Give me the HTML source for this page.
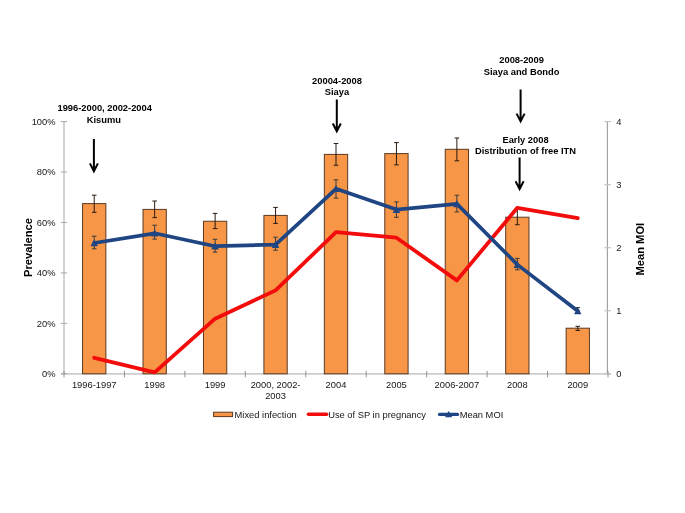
<!DOCTYPE html><html><head><meta charset="utf-8"><style>html,body{margin:0;padding:0;background:#fff;}svg{display:block;font-family:"Liberation Sans",sans-serif;filter:blur(0.35px);}</style></head><body>
<svg width="685" height="513" viewBox="0 0 685 513">
<rect x="0" y="0" width="685" height="513" fill="#fff"/>
<line x1="64.0" y1="121.6" x2="64.0" y2="373.8" stroke="#cdcdcd" stroke-width="1.7"/>
<line x1="607.4" y1="121.6" x2="607.4" y2="373.8" stroke="#a4a4a4" stroke-width="1.2"/>
<line x1="61.0" y1="373.8" x2="611.0" y2="373.8" stroke="#cdcdcd" stroke-width="1.8"/>
<line x1="60.8" y1="373.80" x2="67.0" y2="373.80" stroke="#a8a8a8" stroke-width="1"/>
<text x="55.5" y="377.10" font-size="9.33" fill="#161616" text-anchor="end">0%</text>
<line x1="60.8" y1="323.36" x2="67.0" y2="323.36" stroke="#a8a8a8" stroke-width="1"/>
<text x="55.5" y="326.66" font-size="9.33" fill="#161616" text-anchor="end">20%</text>
<line x1="60.8" y1="272.92" x2="67.0" y2="272.92" stroke="#a8a8a8" stroke-width="1"/>
<text x="55.5" y="276.22" font-size="9.33" fill="#161616" text-anchor="end">40%</text>
<line x1="60.8" y1="222.48" x2="67.0" y2="222.48" stroke="#a8a8a8" stroke-width="1"/>
<text x="55.5" y="225.78" font-size="9.33" fill="#161616" text-anchor="end">60%</text>
<line x1="60.8" y1="172.04" x2="67.0" y2="172.04" stroke="#a8a8a8" stroke-width="1"/>
<text x="55.5" y="175.34" font-size="9.33" fill="#161616" text-anchor="end">80%</text>
<line x1="60.8" y1="121.60" x2="67.0" y2="121.60" stroke="#a8a8a8" stroke-width="1"/>
<text x="55.5" y="124.90" font-size="9.33" fill="#161616" text-anchor="end">100%</text>
<line x1="604.4" y1="373.80" x2="611.0" y2="373.80" stroke="#c4c4c4" stroke-width="1.2"/>
<text x="616.3" y="377.10" font-size="9.33" fill="#161616">0</text>
<line x1="604.4" y1="310.75" x2="611.0" y2="310.75" stroke="#c4c4c4" stroke-width="1.2"/>
<text x="616.3" y="314.05" font-size="9.33" fill="#161616">1</text>
<line x1="604.4" y1="247.70" x2="611.0" y2="247.70" stroke="#c4c4c4" stroke-width="1.2"/>
<text x="616.3" y="251.00" font-size="9.33" fill="#161616">2</text>
<line x1="604.4" y1="184.65" x2="611.0" y2="184.65" stroke="#c4c4c4" stroke-width="1.2"/>
<text x="616.3" y="187.95" font-size="9.33" fill="#161616">3</text>
<line x1="604.4" y1="121.60" x2="611.0" y2="121.60" stroke="#c4c4c4" stroke-width="1.2"/>
<text x="616.3" y="124.90" font-size="9.33" fill="#161616">4</text>
<line x1="64.00" y1="370.8" x2="64.00" y2="377.3" stroke="#8a8a8a" stroke-width="0.9"/>
<line x1="124.44" y1="370.8" x2="124.44" y2="377.3" stroke="#8a8a8a" stroke-width="0.9"/>
<line x1="184.89" y1="370.8" x2="184.89" y2="377.3" stroke="#8a8a8a" stroke-width="0.9"/>
<line x1="245.33" y1="370.8" x2="245.33" y2="377.3" stroke="#8a8a8a" stroke-width="0.9"/>
<line x1="305.78" y1="370.8" x2="305.78" y2="377.3" stroke="#8a8a8a" stroke-width="0.9"/>
<line x1="366.22" y1="370.8" x2="366.22" y2="377.3" stroke="#8a8a8a" stroke-width="0.9"/>
<line x1="426.67" y1="370.8" x2="426.67" y2="377.3" stroke="#8a8a8a" stroke-width="0.9"/>
<line x1="487.11" y1="370.8" x2="487.11" y2="377.3" stroke="#8a8a8a" stroke-width="0.9"/>
<line x1="547.56" y1="370.8" x2="547.56" y2="377.3" stroke="#8a8a8a" stroke-width="0.9"/>
<line x1="608.00" y1="370.8" x2="608.00" y2="377.3" stroke="#8a8a8a" stroke-width="0.9"/>
<rect x="82.57" y="203.60" width="23.30" height="170.20" fill="#F79646" stroke="#5a3a22" stroke-width="1"/>
<rect x="143.02" y="209.40" width="23.30" height="164.40" fill="#F79646" stroke="#5a3a22" stroke-width="1"/>
<rect x="203.46" y="221.25" width="23.30" height="152.55" fill="#F79646" stroke="#5a3a22" stroke-width="1"/>
<rect x="263.91" y="215.40" width="23.30" height="158.40" fill="#F79646" stroke="#5a3a22" stroke-width="1"/>
<rect x="324.35" y="154.40" width="23.30" height="219.40" fill="#F79646" stroke="#5a3a22" stroke-width="1"/>
<rect x="384.79" y="153.60" width="23.30" height="220.20" fill="#F79646" stroke="#5a3a22" stroke-width="1"/>
<rect x="445.24" y="149.30" width="23.30" height="224.50" fill="#F79646" stroke="#5a3a22" stroke-width="1"/>
<rect x="505.68" y="217.20" width="23.30" height="156.60" fill="#F79646" stroke="#5a3a22" stroke-width="1"/>
<rect x="566.13" y="328.20" width="23.30" height="45.60" fill="#F79646" stroke="#5a3a22" stroke-width="1"/>
<path d="M94.22 195.20V212.30M91.92 195.20H96.52M91.92 212.30H96.52" stroke="#2a1a10" stroke-width="1" fill="none"/>
<path d="M154.67 201.00V217.60M152.37 201.00H156.97M152.37 217.60H156.97" stroke="#2a1a10" stroke-width="1" fill="none"/>
<path d="M215.11 213.40V228.60M212.81 213.40H217.41M212.81 228.60H217.41" stroke="#2a1a10" stroke-width="1" fill="none"/>
<path d="M275.56 207.40V223.40M273.26 207.40H277.86M273.26 223.40H277.86" stroke="#2a1a10" stroke-width="1" fill="none"/>
<path d="M336.00 143.50V165.30M333.70 143.50H338.30M333.70 165.30H338.30" stroke="#2a1a10" stroke-width="1" fill="none"/>
<path d="M396.44 142.60V164.90M394.14 142.60H398.74M394.14 164.90H398.74" stroke="#2a1a10" stroke-width="1" fill="none"/>
<path d="M456.89 138.00V160.80M454.59 138.00H459.19M454.59 160.80H459.19" stroke="#2a1a10" stroke-width="1" fill="none"/>
<path d="M517.33 209.30V224.70M515.03 209.30H519.63M515.03 224.70H519.63" stroke="#2a1a10" stroke-width="1" fill="none"/>
<path d="M577.78 326.30V330.40M575.48 326.30H580.08M575.48 330.40H580.08" stroke="#2a1a10" stroke-width="1" fill="none"/>
<polyline points="94.22,357.80 154.67,372.30 215.11,318.70 275.56,290.40 336.00,232.20 396.44,237.70 456.89,280.40 517.33,207.80 577.78,218.20" fill="none" stroke="#f20c0c" stroke-width="3.8" stroke-linejoin="round" stroke-linecap="round"/>
<polyline points="94.22,243.00 154.67,233.30 215.11,246.20 275.56,244.60 336.00,188.80 396.44,209.60 456.89,203.90 517.33,264.60 577.78,311.00" fill="none" stroke="#1f4582" stroke-width="3.7" stroke-linejoin="round" stroke-linecap="round"/>
<path d="M94.22 236.20V248.80M91.92 236.20H96.52M91.92 248.80H96.52" stroke="#3a3a3a" stroke-width="1" fill="none"/>
<path d="M154.67 225.20V239.10M152.37 225.20H156.97M152.37 239.10H156.97" stroke="#3a3a3a" stroke-width="1" fill="none"/>
<path d="M215.11 239.30V252.10M212.81 239.30H217.41M212.81 252.10H217.41" stroke="#3a3a3a" stroke-width="1" fill="none"/>
<path d="M275.56 237.20V250.20M273.26 237.20H277.86M273.26 250.20H277.86" stroke="#3a3a3a" stroke-width="1" fill="none"/>
<path d="M336.00 179.80V198.10M333.70 179.80H338.30M333.70 198.10H338.30" stroke="#3a3a3a" stroke-width="1" fill="none"/>
<path d="M396.44 201.90V217.30M394.14 201.90H398.74M394.14 217.30H398.74" stroke="#3a3a3a" stroke-width="1" fill="none"/>
<path d="M456.89 195.20V211.90M454.59 195.20H459.19M454.59 211.90H459.19" stroke="#3a3a3a" stroke-width="1" fill="none"/>
<path d="M517.33 258.40V269.80M515.03 258.40H519.63M515.03 269.80H519.63" stroke="#3a3a3a" stroke-width="1" fill="none"/>
<path d="M577.78 307.60V313.00M575.48 307.60H580.08M575.48 313.00H580.08" stroke="#3a3a3a" stroke-width="1" fill="none"/>
<path d="M94.22 239.20L97.92 246.30L90.52 246.30Z" fill="#1f4582"/>
<path d="M154.67 229.50L158.37 236.60L150.97 236.60Z" fill="#1f4582"/>
<path d="M215.11 242.40L218.81 249.50L211.41 249.50Z" fill="#1f4582"/>
<path d="M275.56 240.80L279.26 247.90L271.86 247.90Z" fill="#1f4582"/>
<path d="M336.00 185.00L339.70 192.10L332.30 192.10Z" fill="#1f4582"/>
<path d="M396.44 205.80L400.14 212.90L392.74 212.90Z" fill="#1f4582"/>
<path d="M456.89 200.10L460.59 207.20L453.19 207.20Z" fill="#1f4582"/>
<path d="M517.33 260.80L521.03 267.90L513.63 267.90Z" fill="#1f4582"/>
<path d="M577.78 307.20L581.48 314.30L574.08 314.30Z" fill="#1f4582"/>
<text x="94.22" y="388.3" font-size="9.33" fill="#161616" text-anchor="middle">1996-1997</text>
<text x="154.67" y="388.3" font-size="9.33" fill="#161616" text-anchor="middle">1998</text>
<text x="215.11" y="388.3" font-size="9.33" fill="#161616" text-anchor="middle">1999</text>
<text x="275.56" y="388.3" font-size="9.33" fill="#161616" text-anchor="middle">2000, 2002-</text>
<text x="336.00" y="388.3" font-size="9.33" fill="#161616" text-anchor="middle">2004</text>
<text x="396.44" y="388.3" font-size="9.33" fill="#161616" text-anchor="middle">2005</text>
<text x="456.89" y="388.3" font-size="9.33" fill="#161616" text-anchor="middle">2006-2007</text>
<text x="517.33" y="388.3" font-size="9.33" fill="#161616" text-anchor="middle">2008</text>
<text x="577.78" y="388.3" font-size="9.33" fill="#161616" text-anchor="middle">2009</text>
<text x="275.56" y="399" font-size="9.33" fill="#161616" text-anchor="middle">2003</text>
<text transform="translate(31.7,247.5) rotate(-90)" font-size="11.2" font-weight="bold" fill="#000" text-anchor="middle">Prevalence</text>
<text transform="translate(644.4,249.2) rotate(-90)" font-size="11.2" font-weight="bold" fill="#000" text-anchor="middle">Mean MOI</text>
<text x="104.70" y="111.30" font-size="9.33" font-weight="bold" fill="#000" text-anchor="middle">1996-2000, 2002-2004</text>
<text x="103.90" y="122.50" font-size="9.33" font-weight="bold" fill="#000" text-anchor="middle">Kisumu</text>
<path d="M93.90 139.10V170.40M89.90 163.40L93.90 171.20L97.90 163.40" stroke="#000" stroke-width="2" fill="none" stroke-linejoin="miter"/>
<text x="337.00" y="84.00" font-size="9.33" font-weight="bold" fill="#000" text-anchor="middle">20004-2008</text><text x="337.00" y="95.20" font-size="9.33" font-weight="bold" fill="#000" text-anchor="middle">Siaya</text>
<path d="M336.80 99.60V130.50M332.80 123.50L336.80 131.30L340.80 123.50" stroke="#000" stroke-width="2" fill="none" stroke-linejoin="miter"/>
<text x="521.60" y="63.30" font-size="9.33" font-weight="bold" fill="#000" text-anchor="middle">2008-2009</text><text x="521.60" y="74.50" font-size="9.33" font-weight="bold" fill="#000" text-anchor="middle">Siaya and Bondo</text>
<path d="M520.60 89.50V120.60M516.60 113.60L520.60 121.40L524.60 113.60" stroke="#000" stroke-width="2" fill="none" stroke-linejoin="miter"/>
<text x="525.50" y="142.50" font-size="9.33" font-weight="bold" fill="#000" text-anchor="middle">Early 2008</text><text x="525.50" y="153.70" font-size="9.33" font-weight="bold" fill="#000" text-anchor="middle">Distribution of free ITN</text>
<path d="M519.60 157.40V188.30M515.60 181.30L519.60 189.10L523.60 181.30" stroke="#000" stroke-width="2" fill="none" stroke-linejoin="miter"/>
<rect x="213.6" y="412.2" width="19" height="4.4" fill="#F79646" stroke="#5a3a22" stroke-width="1"/>
<text x="234.6" y="417.7" font-size="9.33" fill="#161616">Mixed infection</text>
<line x1="308.4" y1="414.2" x2="326.7" y2="414.2" stroke="#f20c0c" stroke-width="3.4" stroke-linecap="round"/>
<text x="328.2" y="417.7" font-size="9.33" fill="#161616">Use of SP in pregnancy</text>
<line x1="439.6" y1="414.4" x2="457.5" y2="414.4" stroke="#1f4582" stroke-width="3.4" stroke-linecap="round"/>
<path d="M448.6 411L452.2 417.2L445 417.2Z" fill="#1f4582"/>
<text x="459.7" y="417.7" font-size="9.33" fill="#161616">Mean MOI</text>
</svg></body></html>
